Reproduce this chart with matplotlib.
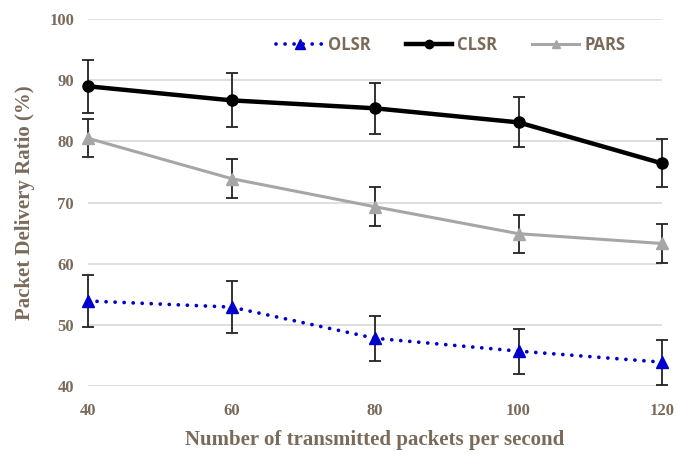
import matplotlib
matplotlib.use("Agg")
import matplotlib.pyplot as plt
from matplotlib.lines import Line2D

x = [40, 60, 80, 100, 120]
olsr = [53.9, 52.9, 47.8, 45.7, 43.9]
olsr_err = [4.2, 4.2, 3.7, 3.7, 3.7]
clsr = [89.0, 86.7, 85.4, 83.1, 76.4]
clsr_err = [4.3, 4.4, 4.2, 4.1, 3.9]
pars = [80.5, 73.9, 69.3, 64.9, 63.3]
pars_err = [3.1, 3.2, 3.2, 3.1, 3.2]
yticks = [40, 50, 60, 70, 80, 90, 100]

txt = "#7a6a5a"
fig = plt.figure(figsize=(6.77, 4.57), dpi=100)
ax = fig.add_axes([88/677, 1-386/457, (662-88)/677, (386-19)/457])

dot = (0, (0.01, 2.4))
ebkw = dict(ecolor="#222222", elinewidth=1.3, capsize=4.5, capthick=1.3)
c = ax.errorbar(x, clsr, yerr=clsr_err, color="black", lw=3.2, marker="o", ms=8, zorder=4, **ebkw)
p = ax.errorbar(x, pars, yerr=pars_err, color="#a6a6a6", lw=2.2, marker="^", ms=8, zorder=3, **ebkw)
o = ax.errorbar(x, olsr, yerr=olsr_err, color="#0000cc", lw=2.7, ls=dot, marker="^", ms=9,
                dash_capstyle="round", zorder=3, **ebkw)
for eb in (c, p, o):
    for art in [eb.lines[0], *eb.lines[1], *eb.lines[2]]:
        art.set_clip_on(False)

ax.set_xlim(40, 120)
ax.set_ylim(40, 100)
ax.set_xticks(x)
ax.set_yticks(yticks)
ax.grid(axis="y", color="#d9d9d9", lw=1.2)
ax.set_axisbelow(True)
for s in ax.spines.values():
    s.set_visible(False)
ax.tick_params(length=0, pad=10, labelcolor=txt)
ax.tick_params(axis="x", pad=12)
for lab in ax.get_xticklabels() + ax.get_yticklabels():
    lab.set_fontfamily("Liberation Serif")
    lab.set_fontweight("bold")
    lab.set_fontsize(12)
ax.set_xlabel("Number of transmitted packets per second", fontsize=15, fontweight="bold",
              family="Liberation Serif", color=txt, labelpad=8)
ax.set_ylabel("Packet Delivery Ratio (%)", fontsize=15, fontweight="bold",
              family="Liberation Serif", color=txt, labelpad=10)

handles = [
    Line2D([], [], color="#0000cc", lw=2.7, ls=dot, dash_capstyle="round", marker="^", ms=7),
    Line2D([], [], color="black", lw=3.2, marker="o", ms=6),
    Line2D([], [], color="#a6a6a6", lw=2.2, marker="^", ms=6),
]
leg = ax.legend(handles, ["OLSR", "CLSR", "PARS"], loc="center",
                bbox_to_anchor=(0.632, 0.929), ncol=3, frameon=False, handlelength=2.8,
                columnspacing=2.1, handletextpad=0.3, borderpad=0, borderaxespad=0,
                prop={"family": "Open Sans", "weight": "bold", "size": 12})
for t in leg.get_texts():
    t.set_color(txt)
fig.savefig("out.png", dpi=100)
